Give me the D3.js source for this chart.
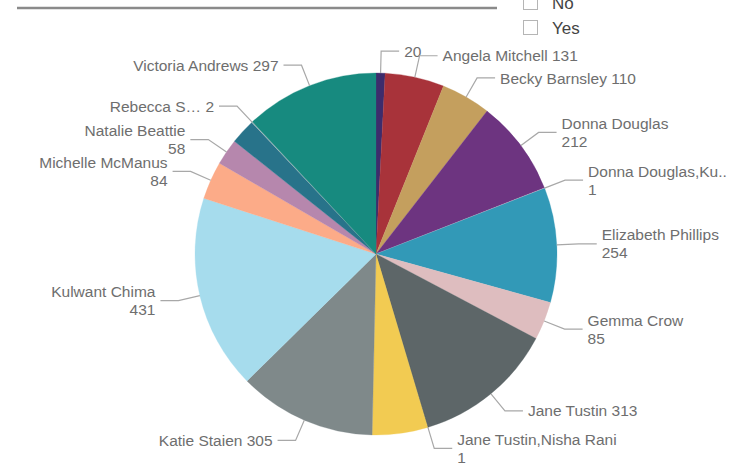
<!DOCTYPE html>
<html>
<head>
<meta charset="utf-8">
<script src="https://cdn.jsdelivr.net/npm/d3@7"></script>
<style>
  html, body { margin: 0; padding: 0; background: #ffffff; }
  svg { display: block; }
  text { font-family: "Liberation Sans", Arial, Helvetica, sans-serif; }
</style>
</head>
<body>
<svg id="chart" width="731" height="470"></svg>
<script>
// Assignees and their item counts, in slice order (clockwise from 12 o'clock)
const categories = [
  "", "Angela Mitchell", "Becky Barnsley", "Donna Douglas", "Donna Douglas,Ku..",
  "Elizabeth Phillips", "Gemma Crow", "Jane Tustin", "Jane Tustin,Nisha Rani", "",
  "Katie Staien", "Kulwant Chima", "Michelle McManus", "Natalie Beattie", "",
  "Rebecca S…", "Victoria Andrews"
];
const values = [20, 131, 110, 212, 1, 254, 85, 313, 1, 123, 305, 431, 84, 58, 56, 2, 297];
const sliceColors = [
  "#3d2c6c", "#a8333a", "#c49f5e", "#6d3480", "#e6c9d2",
  "#3299b7", "#debdbf", "#5d6668", "#4a5456", "#f2cb52",
  "#7f898a", "#a6dced", "#fcab88", "#b687ad", "#28738a",
  "#a3b7ba", "#178a7f"
];
// Which slices carry a data label, and which labels put the value on a second line
const labelShown = [true, true, true, true, true, true, true, true, true, false,
                    true, true, true, true, false, true, true];
const valueOnNewLine = [false, false, false, true, true, true, true, false, true, false,
                        false, true, true, true, false, false, false];
// Slicer entries
const slicerItems = ["No", "Yes"];

const svg = d3.select("#chart");
const cx = 376, cy = 254, radius = 181;

const data = categories.map((c, i) => ({
  name: c, value: values[i], color: sliceColors[i],
  shown: labelShown[i], wrap: valueOnNewLine[i]
}));

const pie = d3.pie().value(d => d.value).sort(null);
const arcs = pie(data);
const arc = d3.arc().innerRadius(0).outerRadius(radius);

// Header rule and slicer
svg.append("line")
  .attr("x1", 17).attr("x2", 497).attr("y1", 8).attr("y2", 8)
  .attr("stroke", "#8a8a8a").attr("stroke-width", 2.5);

const slicer = svg.append("g");
slicerItems.forEach((s, i) => {
  const y = 3 + i * 25;
  slicer.append("rect")
    .attr("x", 523.5).attr("y", y - 7.5).attr("width", 14).attr("height", 14)
    .attr("fill", "#fff").attr("stroke", "#b5b5b5").attr("stroke-width", 1);
  slicer.append("text")
    .attr("x", 552).attr("y", y + 6)
    .attr("font-size", 17).attr("fill", "#444")
    .text(s);
});

// Slices
const g = svg.append("g").attr("transform", `translate(${cx},${cy})`);
g.selectAll("path.slice")
  .data(arcs)
  .join("path")
  .attr("class", "slice")
  .attr("d", arc)
  .attr("fill", d => d.data.color)
  .attr("stroke", d => d.data.color)
  .attr("stroke-width", 0.3);

// Data labels with leader lines
const fontSize = 15.5, lineGap = 18;
const elbowR = radius + 22, run = 18, gap = 5;
const polar = (a, r) => [r * Math.sin(a), -r * Math.cos(a)];

const labels = g.append("g");
arcs.filter(d => d.data.shown).forEach(d => {
  const mid = (d.startAngle + d.endAngle) / 2;
  const right = mid < Math.PI;
  const p0 = polar(mid, radius);
  const p1 = polar(mid, elbowR);
  const p2 = [p1[0] + (right ? run : -run), p1[1]];
  labels.append("polyline")
    .attr("points", [p0, p1, p2].map(p => p.join(",")).join(" "))
    .attr("fill", "none").attr("stroke", "#a8a8a8").attr("stroke-width", 1.2);

  const lines = d.data.name === "" ? [String(d.data.value)]
    : d.data.wrap ? [d.data.name, String(d.data.value)]
    : [d.data.name + " " + d.data.value];
  const tx = p2[0] + (right ? gap : -gap);
  const y0 = p1[1] - (lines.length - 1) * lineGap / 2 + fontSize * 0.36;
  const t = labels.append("text")
    .attr("x", tx)
    .attr("text-anchor", right ? "start" : "end")
    .attr("font-size", fontSize)
    .attr("fill", "#6e6e6e");
  lines.forEach((ln, i) => {
    t.append("tspan").attr("x", tx).attr("y", y0 + i * lineGap).text(ln);
  });
});
</script>
</body>
</html>
